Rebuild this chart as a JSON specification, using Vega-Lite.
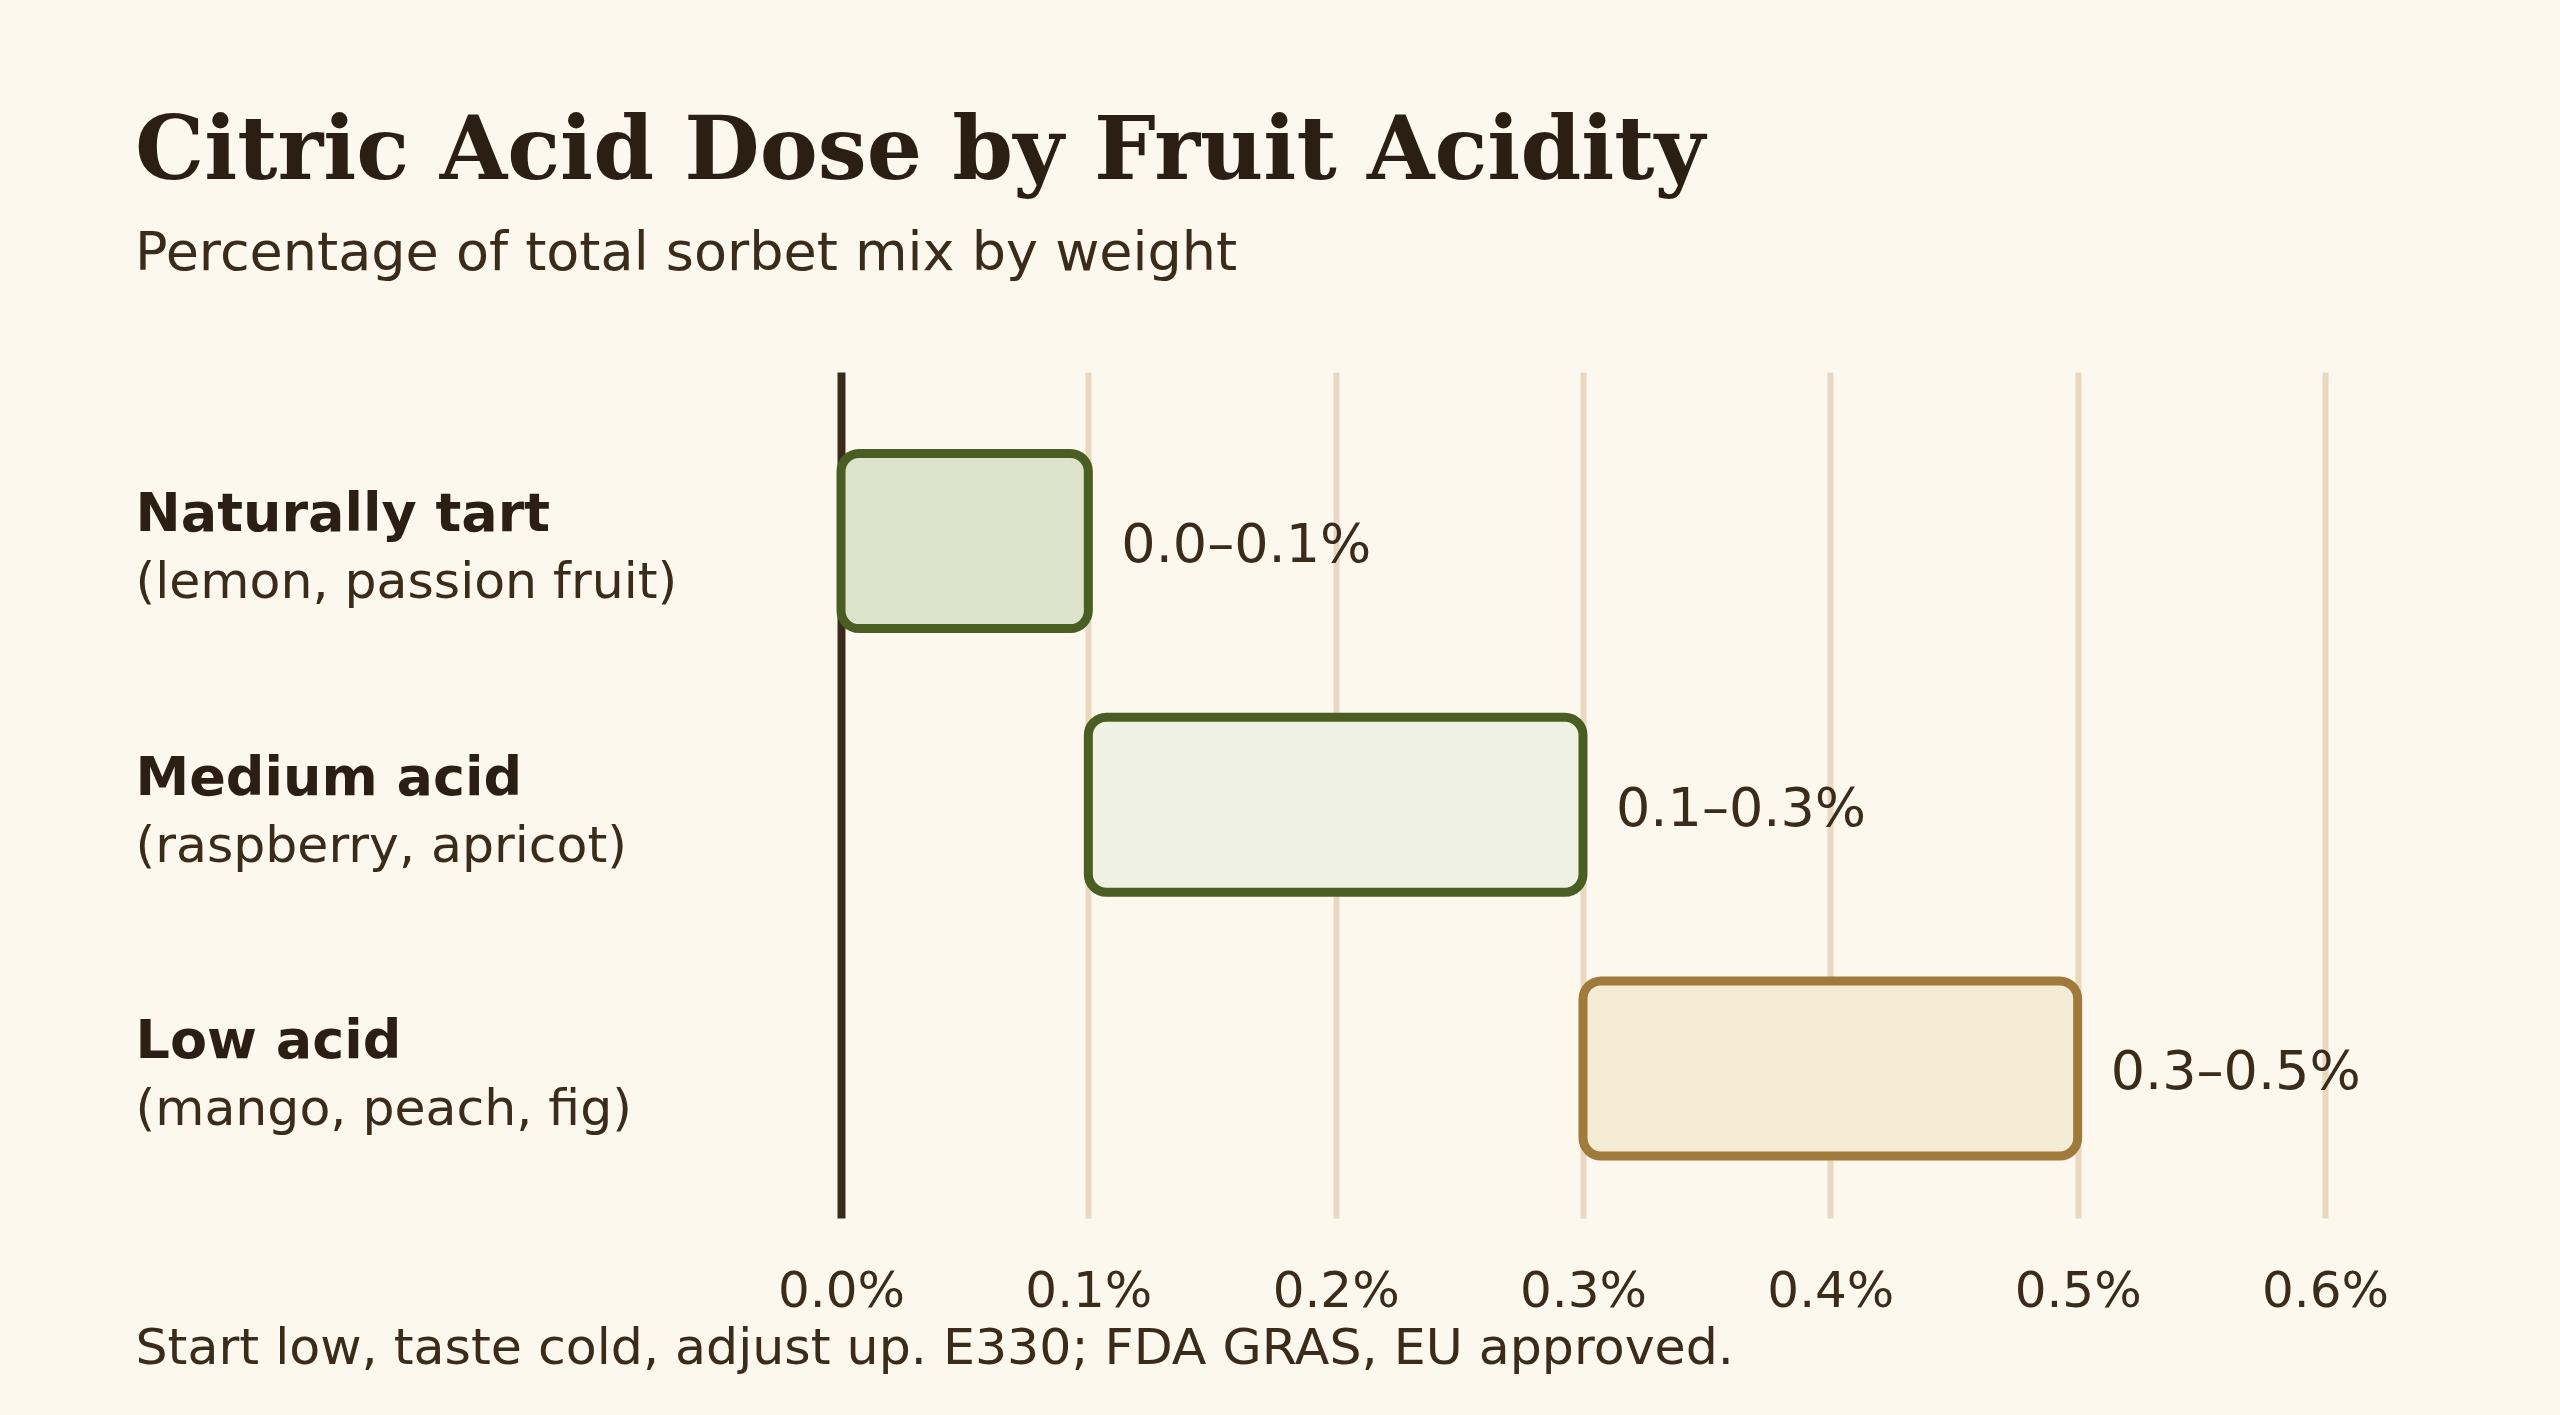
{
  "$schema": "https://vega.github.io/schema/vega-lite/v6.json",
  "width": 1484,
  "height": 846,
  "autosize": {"type": "none"},
  "padding": {"left": 841, "top": 372, "right": 235, "bottom": 197},
  "background": "#fcf8ee",
  "title": {
    "text": "Citric Acid Dose by Fruit Acidity",
    "subtitle": "Percentage of total sorbet mix by weight",
    "anchor": "start",
    "frame": "bounds",
    "font": "DejaVu Serif",
    "fontSize": 87,
    "fontWeight": "bold",
    "color": "#2b1e12",
    "subtitleFont": "DejaVu Sans",
    "subtitleFontSize": 54,
    "subtitleColor": "#3b2b1a",
    "subtitlePadding": 30,
    "offset": 90
  },
  "data": {
    "values": [
      {"group": "Naturally tart", "fruits": "(lemon, passion fruit)", "lo": 0, "hi": 0.1, "range": "0.0–0.1%"},
      {"group": "Medium acid", "fruits": "(raspberry, apricot)", "lo": 0.1, "hi": 0.3, "range": "0.1–0.3%"},
      {"group": "Low acid", "fruits": "(mango, peach, fig)", "lo": 0.3, "hi": 0.5, "range": "0.3–0.5%"}
    ]
  },
  "config": {"view": {"stroke": null}, "font": "DejaVu Sans"},
  "resolve": {"scale": {"y": "independent"}, "axis": {"y": "independent"}},
  "layer": [
    {
      "mark": {"type": "bar", "strokeWidth": 9, "cornerRadius": 18},
      "encoding": {
        "y": {
          "field": "group",
          "type": "nominal",
          "sort": null,
          "scale": {"type": "band", "paddingInner": 0.336, "paddingOuter": 0.272, "align": 0.568},
          "axis": {
            "orient": "left",
            "title": null,
            "domain": false,
            "ticks": false,
            "tickSize": 0,
            "grid": false,
            "labelAlign": "left",
            "labelPadding": 706,
            "labelBaseline": "alphabetic",
            "labelOffset": -10,
            "labelFont": "DejaVu Sans",
            "labelFontSize": 54,
            "labelFontWeight": "bold",
            "labelColor": "#2b1e12",
            "labelLimit": 800
          }
        },
        "x": {
          "field": "lo",
          "type": "quantitative",
          "scale": {"domain": [0, 0.6], "nice": false},
          "axis": {
            "values": [0, 0.1, 0.2, 0.3, 0.4, 0.5, 0.6],
            "labelExpr": "format(datum.value, '.1f') + '%'",
            "labelFlush": false,
            "labelOverlap": false,
            "domain": false,
            "ticks": false,
            "grid": true,
            "gridColor": {"condition": {"test": "datum.value === 0", "value": "#3a2a1b"}, "value": "#e8d8bf"},
            "gridWidth": {"condition": {"test": "datum.value === 0", "value": 8}, "value": 6},
            "labelPadding": 48,
            "labelFont": "DejaVu Sans",
            "labelFontSize": 50,
            "labelColor": "#3b2b1a",
            "title": "Start low, taste cold, adjust up. E330; FDA GRAS, EU approved.",
            "titleX": -706,
            "titleY": 145,
            "titleAlign": "left",
            "titleAnchor": "start",
            "titleBaseline": "alphabetic",
            "titleFont": "DejaVu Sans",
            "titleFontSize": 50.6,
            "titleFontWeight": "normal",
            "titleColor": "#3b2b1a"
          }
        },
        "x2": {"field": "hi"},
        "fill": {
          "field": "group",
          "type": "nominal",
          "sort": null,
          "scale": {"domain": ["Naturally tart", "Medium acid", "Low acid"], "range": ["#dde3cb", "#eff2e3", "#f5ecd5"]},
          "legend": null
        },
        "stroke": {
          "field": "group",
          "type": "nominal",
          "sort": null,
          "scale": {"domain": ["Naturally tart", "Medium acid", "Low acid"], "range": ["#4a5d23", "#4a5d23", "#a07a3a"]},
          "legend": null
        }
      }
    },
    {
      "mark": {"type": "text", "align": "left", "baseline": "middle", "dx": 33, "dy": 5, "fontSize": 54, "font": "DejaVu Sans", "color": "#3b2b1a"},
      "encoding": {
        "y": {
          "field": "fruits",
          "type": "nominal",
          "sort": null,
          "scale": {"type": "band", "paddingInner": 0.336, "paddingOuter": 0.272, "align": 0.568},
          "axis": {
            "orient": "left",
            "title": null,
            "domain": false,
            "ticks": false,
            "tickSize": 0,
            "grid": false,
            "labelAlign": "left",
            "labelPadding": 706,
            "labelBaseline": "alphabetic",
            "labelOffset": 57,
            "labelFont": "DejaVu Sans",
            "labelFontSize": 50.5,
            "labelFontWeight": "normal",
            "labelColor": "#3b2b1a",
            "labelLimit": 800
          }
        },
        "x": {"field": "hi", "type": "quantitative"},
        "text": {"field": "range"}
      }
    }
  ]
}
